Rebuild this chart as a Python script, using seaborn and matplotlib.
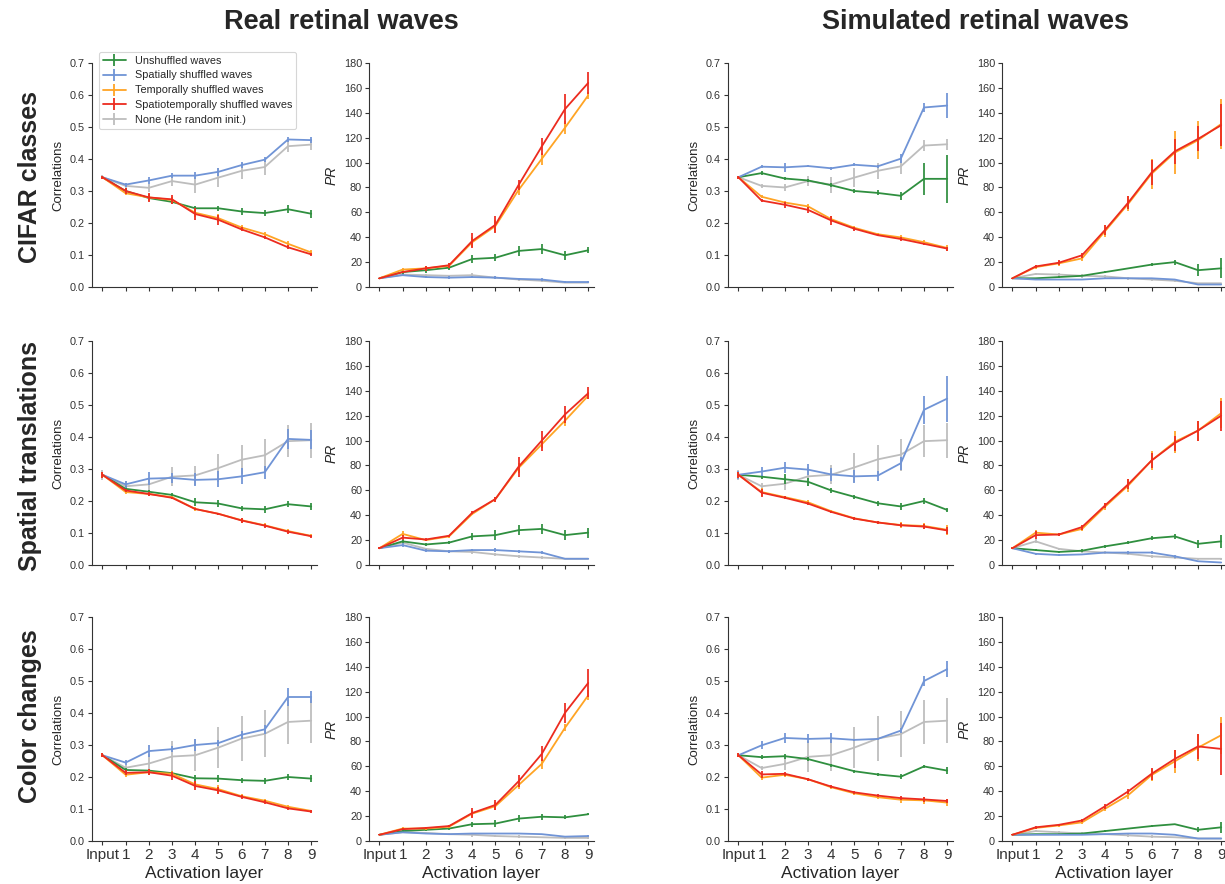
import matplotlib
matplotlib.use("Agg")
import matplotlib.pyplot as plt
from matplotlib.lines import Line2D
import seaborn as sns
import pandas as pd

# ---------------- categories ----------------
layer_labels = ["Input", "1", "2", "3", "4", "5", "6", "7", "8", "9"]
series_names = ["Unshuffled waves", "Spatially shuffled waves", "Temporally shuffled waves",
                "Spatiotemporally shuffled waves", "None (He random init.)"]
column_titles = ["Real retinal waves", "Simulated retinal waves"]
row_titles = ["CIFAR classes", "Spatial translations", "Color changes"]

# ---------------- Real waves / CIFAR classes ----------------
real_cifar_corr_unsh = [0.343, 0.300, 0.278, 0.266, 0.246, 0.246, 0.236, 0.231, 0.243, 0.229]
real_cifar_corr_unsh_err = [0.005, 0.008, 0.008, 0.008, 0.007, 0.008, 0.010, 0.010, 0.013, 0.012]
real_cifar_corr_spat = [0.343, 0.320, 0.333, 0.348, 0.348, 0.360, 0.381, 0.398, 0.461, 0.459]
real_cifar_corr_spat_err = [0.005, 0.006, 0.010, 0.008, 0.010, 0.012, 0.010, 0.008, 0.008, 0.010]
real_cifar_corr_temp = [0.343, 0.293, 0.280, 0.272, 0.232, 0.215, 0.186, 0.165, 0.135, 0.108]
real_cifar_corr_temp_err = [0.005, 0.006, 0.010, 0.010, 0.012, 0.012, 0.008, 0.008, 0.010, 0.008]
real_cifar_corr_st = [0.343, 0.300, 0.280, 0.274, 0.228, 0.210, 0.180, 0.155, 0.124, 0.102]
real_cifar_corr_st_err = [0.005, 0.008, 0.015, 0.015, 0.018, 0.015, 0.006, 0.005, 0.006, 0.005]
real_cifar_corr_none = [0.343, 0.316, 0.310, 0.331, 0.320, 0.342, 0.363, 0.375, 0.440, 0.445]
real_cifar_corr_none_err = [0.006, 0.008, 0.012, 0.015, 0.025, 0.030, 0.025, 0.025, 0.018, 0.018]

real_cifar_pr_unsh = [7, 12, 13.5, 15.5, 22.5, 23.5, 29, 30.5, 25.5, 29.5]
real_cifar_pr_unsh_err = [0.5, 1.5, 2, 2, 3, 3, 4, 4, 3.5, 2.5]
real_cifar_pr_spat = [7, 9.5, 8, 7.5, 8, 7.5, 6.5, 6, 4, 4]
real_cifar_pr_spat_err = [0.5, 1, 1, 1, 1, 1, 1, 1, 0.5, 1]
real_cifar_pr_temp = [7, 14, 15, 17, 36, 49, 78, 103, 128, 154]
real_cifar_pr_temp_err = [0.5, 1, 1.5, 2, 4, 5, 4, 5, 5, 3]
real_cifar_pr_st = [7, 12, 15, 17.5, 37, 50, 82, 113, 143, 164]
real_cifar_pr_st_err = [0.5, 1, 2, 2, 6, 7, 4, 7, 12, 9]
real_cifar_pr_none = [7, 10, 9.5, 9, 9.5, 7.5, 6, 5, 3.5, 3.5]
real_cifar_pr_none_err = [0.5, 1, 1, 1, 2, 1, 1, 1, 0.5, 0.5]

# ---------------- Simulated waves / CIFAR classes ----------------
sim_cifar_corr_unsh = [0.343, 0.356, 0.339, 0.333, 0.318, 0.300, 0.294, 0.285, 0.338, 0.338]
sim_cifar_corr_unsh_err = [0.005, 0.006, 0.006, 0.006, 0.006, 0.006, 0.008, 0.012, 0.050, 0.075]
sim_cifar_corr_spat = [0.343, 0.376, 0.374, 0.378, 0.371, 0.382, 0.377, 0.401, 0.561, 0.567]
sim_cifar_corr_spat_err = [0.004, 0.004, 0.015, 0.004, 0.004, 0.004, 0.005, 0.015, 0.014, 0.038]
sim_cifar_corr_temp = [0.343, 0.282, 0.264, 0.252, 0.212, 0.185, 0.165, 0.155, 0.140, 0.122]
sim_cifar_corr_temp_err = [0.004, 0.005, 0.006, 0.008, 0.010, 0.006, 0.005, 0.006, 0.006, 0.008]
sim_cifar_corr_st = [0.343, 0.270, 0.257, 0.241, 0.208, 0.182, 0.162, 0.150, 0.135, 0.120]
sim_cifar_corr_st_err = [0.004, 0.004, 0.010, 0.010, 0.014, 0.006, 0.004, 0.006, 0.004, 0.006]
sim_cifar_corr_none = [0.343, 0.316, 0.311, 0.331, 0.320, 0.342, 0.363, 0.377, 0.442, 0.446]
sim_cifar_corr_none_err = [0.005, 0.006, 0.012, 0.016, 0.025, 0.030, 0.025, 0.025, 0.018, 0.018]

sim_cifar_pr_unsh = [7, 7, 8, 9, 12, 15, 18, 20, 13.5, 15]
sim_cifar_pr_unsh_err = [0.5, 0.5, 0.5, 0.5, 0.5, 0.5, 1, 2, 5, 8]
sim_cifar_pr_spat = [7, 6, 6, 6, 7, 7, 7, 6, 2, 2]
sim_cifar_pr_spat_err = [0.5, 0.5, 0.5, 0.5, 0.5, 0.5, 0.5, 0.5, 0.5, 0.5]
sim_cifar_pr_temp = [7, 16, 19, 23, 45, 67, 91, 108, 118, 131]
sim_cifar_pr_temp_err = [0.5, 1.5, 2, 2, 5, 6, 12, 17, 15, 20]
sim_cifar_pr_st = [7, 16.5, 19.5, 25.5, 46, 68, 92, 109, 119, 130]
sim_cifar_pr_st_err = [0.5, 1.5, 2, 2, 4, 5, 10, 10, 10, 17]
sim_cifar_pr_none = [7, 10.5, 10, 9, 8.5, 7, 6, 5, 3, 3]
sim_cifar_pr_none_err = [0.5, 1, 1, 1.5, 1.5, 1, 1, 1, 0.5, 0.5]

# ---------------- Real waves / Spatial translations ----------------
real_trans_corr_unsh = [0.282, 0.238, 0.229, 0.219, 0.196, 0.192, 0.177, 0.174, 0.190, 0.183]
real_trans_corr_unsh_err = [0.010, 0.008, 0.006, 0.006, 0.012, 0.012, 0.008, 0.010, 0.010, 0.010]
real_trans_corr_spat = [0.282, 0.252, 0.270, 0.272, 0.266, 0.268, 0.277, 0.290, 0.394, 0.391]
real_trans_corr_spat_err = [0.010, 0.010, 0.020, 0.015, 0.020, 0.025, 0.025, 0.020, 0.030, 0.030]
real_trans_corr_temp = [0.282, 0.228, 0.222, 0.212, 0.175, 0.160, 0.140, 0.124, 0.106, 0.091]
real_trans_corr_temp_err = [0.010, 0.006, 0.006, 0.005, 0.005, 0.004, 0.008, 0.006, 0.006, 0.005]
real_trans_corr_st = [0.282, 0.233, 0.222, 0.210, 0.175, 0.160, 0.139, 0.123, 0.104, 0.090]
real_trans_corr_st_err = [0.010, 0.006, 0.006, 0.004, 0.004, 0.004, 0.008, 0.006, 0.006, 0.005]
real_trans_corr_none = [0.282, 0.246, 0.252, 0.276, 0.280, 0.303, 0.329, 0.343, 0.387, 0.390]
real_trans_corr_none_err = [0.015, 0.015, 0.020, 0.030, 0.030, 0.045, 0.045, 0.050, 0.050, 0.055]

real_trans_pr_unsh = [13.5, 19, 16.5, 18, 23, 24, 28, 29, 24, 26]
real_trans_pr_unsh_err = [1, 1, 1, 1, 3, 4, 4, 4, 4, 4]
real_trans_pr_spat = [13.5, 16, 11.5, 11, 12, 12, 11, 10, 5, 5]
real_trans_pr_spat_err = [1, 1.5, 1, 1, 1, 1.5, 1, 1, 0.5, 0.5]
real_trans_pr_temp = [13.5, 25, 20, 23, 41, 53, 78, 97, 116, 136]
real_trans_pr_temp_err = [1, 2, 1, 1.5, 1, 2, 4, 3, 4, 3]
real_trans_pr_st = [13.5, 22, 20.5, 23.5, 42, 53, 79, 100, 121, 138]
real_trans_pr_st_err = [1, 2, 1, 1, 1, 2, 8, 8, 7, 5]
real_trans_pr_none = [13.5, 18, 13, 11, 10.5, 8.5, 7, 6, 5, 5]
real_trans_pr_none_err = [1, 1.5, 1, 1, 2, 1, 1, 1, 0.5, 0.5]

# ---------------- Simulated waves / Spatial translations ----------------
sim_trans_corr_unsh = [0.282, 0.276, 0.268, 0.260, 0.233, 0.213, 0.193, 0.183, 0.200, 0.172]
sim_trans_corr_unsh_err = [0.010, 0.006, 0.015, 0.012, 0.008, 0.006, 0.008, 0.010, 0.008, 0.006]
sim_trans_corr_spat = [0.282, 0.292, 0.304, 0.298, 0.283, 0.277, 0.279, 0.318, 0.485, 0.520]
sim_trans_corr_spat_err = [0.012, 0.015, 0.018, 0.018, 0.020, 0.020, 0.015, 0.020, 0.043, 0.072]
sim_trans_corr_temp = [0.282, 0.228, 0.212, 0.196, 0.168, 0.146, 0.133, 0.125, 0.122, 0.110]
sim_trans_corr_temp_err = [0.010, 0.012, 0.005, 0.006, 0.005, 0.005, 0.005, 0.008, 0.010, 0.015]
sim_trans_corr_st = [0.282, 0.226, 0.210, 0.192, 0.166, 0.145, 0.133, 0.124, 0.120, 0.108]
sim_trans_corr_st_err = [0.010, 0.012, 0.005, 0.005, 0.004, 0.005, 0.005, 0.006, 0.008, 0.010]
sim_trans_corr_none = [0.282, 0.246, 0.254, 0.277, 0.282, 0.305, 0.330, 0.345, 0.387, 0.390]
sim_trans_corr_none_err = [0.015, 0.010, 0.020, 0.030, 0.030, 0.045, 0.045, 0.050, 0.050, 0.055]

sim_trans_pr_unsh = [13.5, 12, 10.5, 11.5, 15, 18, 21.5, 23, 17, 19]
sim_trans_pr_unsh_err = [1, 1, 1, 1, 1, 1, 1.5, 2, 3, 5.5]
sim_trans_pr_spat = [13.5, 9, 8, 8.5, 10, 10, 10, 7, 3, 2]
sim_trans_pr_spat_err = [1, 1, 0.5, 0.5, 0.5, 1, 1, 1, 0.5, 0.5]
sim_trans_pr_temp = [13.5, 26, 24.5, 29, 47, 64, 84, 99, 108, 122]
sim_trans_pr_temp_err = [1, 2, 1, 2, 3, 5, 8, 9, 8, 12]
sim_trans_pr_st = [13.5, 24, 24.5, 30.5, 48, 65, 84, 98, 108, 120]
sim_trans_pr_st_err = [1, 3, 1, 2, 2, 4, 6, 6, 8, 12]
sim_trans_pr_none = [13.5, 19, 13, 11, 10, 9, 7, 6, 5, 5]
sim_trans_pr_none_err = [1, 1.5, 1, 1, 1, 1, 1, 1, 1, 1]

# ---------------- Real waves / Color changes ----------------
real_color_corr_unsh = [0.268, 0.222, 0.220, 0.212, 0.196, 0.195, 0.190, 0.188, 0.200, 0.195]
real_color_corr_unsh_err = [0.006, 0.006, 0.006, 0.006, 0.010, 0.010, 0.008, 0.010, 0.010, 0.010]
real_color_corr_spat = [0.268, 0.245, 0.281, 0.287, 0.300, 0.306, 0.332, 0.349, 0.450, 0.450]
real_color_corr_spat_err = [0.006, 0.008, 0.020, 0.010, 0.020, 0.010, 0.012, 0.015, 0.028, 0.020]
real_color_corr_temp = [0.268, 0.207, 0.215, 0.210, 0.177, 0.162, 0.140, 0.126, 0.107, 0.094]
real_color_corr_temp_err = [0.006, 0.006, 0.010, 0.010, 0.010, 0.012, 0.006, 0.006, 0.005, 0.004]
real_color_corr_st = [0.268, 0.213, 0.215, 0.204, 0.172, 0.158, 0.138, 0.121, 0.102, 0.092]
real_color_corr_st_err = [0.006, 0.008, 0.010, 0.012, 0.014, 0.012, 0.006, 0.006, 0.005, 0.004]
real_color_corr_none = [0.268, 0.229, 0.242, 0.264, 0.268, 0.292, 0.320, 0.335, 0.372, 0.376]
real_color_corr_none_err = [0.006, 0.008, 0.030, 0.048, 0.050, 0.065, 0.070, 0.073, 0.070, 0.070]

real_color_pr_unsh = [5, 8, 9, 10, 13.5, 14, 18, 19.5, 19, 21.5]
real_color_pr_unsh_err = [0.5, 1, 1, 1, 2, 2.5, 2.5, 2.5, 1.5, 1]
real_color_pr_spat = [5, 7, 6, 5.5, 6, 6, 6, 5.5, 3.5, 4]
real_color_pr_spat_err = [0.5, 0.5, 0.5, 0.5, 0.5, 0.5, 0.5, 0.5, 0.5, 0.5]
real_color_pr_temp = [5, 10, 10, 11.5, 22, 28, 45, 62, 91, 117]
real_color_pr_temp_err = [0.5, 1, 1, 1, 3, 3, 3, 4, 3, 4]
real_color_pr_st = [5, 9.5, 10.5, 12, 22.5, 29, 48, 70, 103, 127]
real_color_pr_st_err = [0.5, 1, 1, 1, 4, 4, 5, 6, 8, 11]
real_color_pr_none = [5, 7, 6.5, 5.5, 5, 4, 3.5, 3, 2.5, 2.5]
real_color_pr_none_err = [0.5, 0.5, 1, 1, 1.5, 1, 1, 0.5, 0.5, 0.5]

# ---------------- Simulated waves / Color changes ----------------
sim_color_corr_unsh = [0.268, 0.262, 0.265, 0.256, 0.237, 0.218, 0.208, 0.201, 0.233, 0.220]
sim_color_corr_unsh_err = [0.005, 0.006, 0.008, 0.006, 0.005, 0.004, 0.004, 0.007, 0.004, 0.010]
sim_color_corr_spat = [0.268, 0.299, 0.322, 0.319, 0.321, 0.316, 0.319, 0.345, 0.500, 0.537]
sim_color_corr_spat_err = [0.006, 0.013, 0.015, 0.014, 0.015, 0.004, 0.004, 0.008, 0.016, 0.025]
sim_color_corr_temp = [0.268, 0.198, 0.207, 0.193, 0.168, 0.149, 0.137, 0.129, 0.127, 0.120]
sim_color_corr_temp_err = [0.006, 0.006, 0.006, 0.004, 0.005, 0.005, 0.006, 0.010, 0.012, 0.012]
sim_color_corr_st = [0.268, 0.208, 0.210, 0.193, 0.170, 0.152, 0.142, 0.134, 0.130, 0.125]
sim_color_corr_st_err = [0.006, 0.010, 0.006, 0.005, 0.005, 0.004, 0.004, 0.006, 0.008, 0.006]
sim_color_corr_none = [0.268, 0.228, 0.241, 0.263, 0.268, 0.292, 0.320, 0.334, 0.372, 0.376]
sim_color_corr_none_err = [0.006, 0.006, 0.020, 0.048, 0.050, 0.065, 0.070, 0.073, 0.070, 0.070]

sim_color_pr_unsh = [5, 5.5, 5.5, 6, 8, 10, 12, 13.5, 9, 11]
sim_color_pr_unsh_err = [0.5, 0.5, 0.5, 0.5, 0.5, 0.5, 0.5, 0.5, 2, 4.5]
sim_color_pr_spat = [5, 5, 5, 5, 5.5, 6, 6, 5, 2, 2]
sim_color_pr_spat_err = [0.5, 0.5, 0.5, 0.5, 0.5, 0.5, 0.5, 0.5, 0.5, 0.5]
sim_color_pr_temp = [5, 10.5, 12.5, 15, 26, 37, 53, 64, 75, 85]
sim_color_pr_temp_err = [0.5, 1, 1, 1.5, 2, 3, 5, 9, 11, 15]
sim_color_pr_st = [5, 11, 13, 16.5, 28, 40, 54, 66, 76, 74]
sim_color_pr_st_err = [0.5, 1, 1, 1, 2, 2, 5, 7, 10, 21]
sim_color_pr_none = [5, 8, 7, 6, 5.5, 4.5, 3.5, 3, 2, 2]
sim_color_pr_none_err = [0.5, 1, 1, 1, 1, 1, 1, 0.5, 0.5, 0.5]

# ---------------- styling ----------------
colors = ["#2f8f3f", "#7094d6", "#ffa424", "#ec2b1f", "#bdbdbd"]
draw_order = [4, 0, 1, 2, 3]

panels = [
    [(real_cifar_corr_unsh, real_cifar_corr_spat, real_cifar_corr_temp, real_cifar_corr_st, real_cifar_corr_none),
     (real_cifar_pr_unsh, real_cifar_pr_spat, real_cifar_pr_temp, real_cifar_pr_st, real_cifar_pr_none),
     (sim_cifar_corr_unsh, sim_cifar_corr_spat, sim_cifar_corr_temp, sim_cifar_corr_st, sim_cifar_corr_none),
     (sim_cifar_pr_unsh, sim_cifar_pr_spat, sim_cifar_pr_temp, sim_cifar_pr_st, sim_cifar_pr_none)],
    [(real_trans_corr_unsh, real_trans_corr_spat, real_trans_corr_temp, real_trans_corr_st, real_trans_corr_none),
     (real_trans_pr_unsh, real_trans_pr_spat, real_trans_pr_temp, real_trans_pr_st, real_trans_pr_none),
     (sim_trans_corr_unsh, sim_trans_corr_spat, sim_trans_corr_temp, sim_trans_corr_st, sim_trans_corr_none),
     (sim_trans_pr_unsh, sim_trans_pr_spat, sim_trans_pr_temp, sim_trans_pr_st, sim_trans_pr_none)],
    [(real_color_corr_unsh, real_color_corr_spat, real_color_corr_temp, real_color_corr_st, real_color_corr_none),
     (real_color_pr_unsh, real_color_pr_spat, real_color_pr_temp, real_color_pr_st, real_color_pr_none),
     (sim_color_corr_unsh, sim_color_corr_spat, sim_color_corr_temp, sim_color_corr_st, sim_color_corr_none),
     (sim_color_pr_unsh, sim_color_pr_spat, sim_color_pr_temp, sim_color_pr_st, sim_color_pr_none)],
]
panel_errs = [
    [(real_cifar_corr_unsh_err, real_cifar_corr_spat_err, real_cifar_corr_temp_err, real_cifar_corr_st_err, real_cifar_corr_none_err),
     (real_cifar_pr_unsh_err, real_cifar_pr_spat_err, real_cifar_pr_temp_err, real_cifar_pr_st_err, real_cifar_pr_none_err),
     (sim_cifar_corr_unsh_err, sim_cifar_corr_spat_err, sim_cifar_corr_temp_err, sim_cifar_corr_st_err, sim_cifar_corr_none_err),
     (sim_cifar_pr_unsh_err, sim_cifar_pr_spat_err, sim_cifar_pr_temp_err, sim_cifar_pr_st_err, sim_cifar_pr_none_err)],
    [(real_trans_corr_unsh_err, real_trans_corr_spat_err, real_trans_corr_temp_err, real_trans_corr_st_err, real_trans_corr_none_err),
     (real_trans_pr_unsh_err, real_trans_pr_spat_err, real_trans_pr_temp_err, real_trans_pr_st_err, real_trans_pr_none_err),
     (sim_trans_corr_unsh_err, sim_trans_corr_spat_err, sim_trans_corr_temp_err, sim_trans_corr_st_err, sim_trans_corr_none_err),
     (sim_trans_pr_unsh_err, sim_trans_pr_spat_err, sim_trans_pr_temp_err, sim_trans_pr_st_err, sim_trans_pr_none_err)],
    [(real_color_corr_unsh_err, real_color_corr_spat_err, real_color_corr_temp_err, real_color_corr_st_err, real_color_corr_none_err),
     (real_color_pr_unsh_err, real_color_pr_spat_err, real_color_pr_temp_err, real_color_pr_st_err, real_color_pr_none_err),
     (sim_color_corr_unsh_err, sim_color_corr_spat_err, sim_color_corr_temp_err, sim_color_corr_st_err, sim_color_corr_none_err),
     (sim_color_pr_unsh_err, sim_color_pr_spat_err, sim_color_pr_temp_err, sim_color_pr_st_err, sim_color_pr_none_err)],
]

sns.set_theme(style="ticks")
plt.rcParams["font.family"] = ["Liberation Sans", "DejaVu Sans"]
plt.rcParams["axes.edgecolor"] = "#333333"
plt.rcParams["xtick.color"] = "#333333"
plt.rcParams["ytick.color"] = "#333333"

fig = plt.figure(figsize=(12.25, 8.84), dpi=100)

col_lefts = [92, 369, 728, 1002]
row_tops = [63, 341, 617]
ax_w, ax_h = 225, 224
W, H = 1225, 884
x_pos = list(range(len(layer_labels)))

for r in range(3):
    for c in range(4):
        left = col_lefts[c] / W
        bottom = 1 - (row_tops[r] + ax_h) / H
        ax = fig.add_axes([left, bottom, ax_w / W, ax_h / H])
        is_pr = (c % 2 == 1)
        vals = panels[r][c]
        errs = panel_errs[r][c]
        for s in draw_order:
            df = pd.DataFrame({"layer": x_pos, "value": vals[s]})
            sns.lineplot(data=df, x="layer", y="value", ax=ax, color=colors[s],
                         lw=1.3, legend=False)
            ax.errorbar(x_pos, vals[s], yerr=errs[s], fmt="none", ecolor=colors[s],
                        elinewidth=1.4, capsize=0, alpha=0.9)
        ax.set_xlim(-0.45, 9.25)
        if is_pr:
            ax.set_ylim(0, 180)
            ax.set_yticks(range(0, 181, 20))
            ax.set_ylabel("PR", fontsize=10, style="italic")
        else:
            ax.set_ylim(0, 0.7)
            ax.set_yticks([0.0, 0.1, 0.2, 0.3, 0.4, 0.5, 0.6, 0.7])
            ax.set_yticklabels([f"{v:.1f}" for v in [0.0, 0.1, 0.2, 0.3, 0.4, 0.5, 0.6, 0.7]])
            ax.set_ylabel("Correlations", fontsize=9.5)
        ax.set_xticks(x_pos)
        if r == 2:
            ax.set_xticklabels(layer_labels, fontsize=11)
            ax.set_xlabel("Activation layer", fontsize=12.5, labelpad=3)
        else:
            ax.set_xticklabels([])
            ax.set_xlabel("")
        ax.tick_params(axis="y", labelsize=7.8, length=3, width=0.8, pad=2)
        ax.tick_params(axis="x", length=3, width=0.8, pad=2)
        for sp in ["left", "bottom"]:
            ax.spines[sp].set_linewidth(0.8)
        sns.despine(ax=ax)

        if r == 0 and c == 0:
            handles = [Line2D([0], [0], color=colors[i], lw=1.3, marker="|",
                              markersize=9, markeredgewidth=1.3) for i in range(5)]
            leg = ax.legend(handles, series_names, loc="upper left",
                            bbox_to_anchor=(0.03, 1.05), borderaxespad=0,
                            fontsize=7.8, frameon=True, handlelength=2.2,
                            labelspacing=0.45, borderpad=0.35)
            leg.get_frame().set_edgecolor("#cccccc")
            leg.get_frame().set_linewidth(0.8)

fig.text(341 / W, 1 - 22 / H, column_titles[0], ha="center", va="center",
         fontsize=19.5, fontweight="bold")
fig.text(976 / W, 1 - 22 / H, column_titles[1], ha="center", va="center",
         fontsize=19.5, fontweight="bold")
for r, (title, yc) in enumerate(zip(row_titles, [177, 456, 716])):
    fig.text(30 / W, 1 - yc / H, title, ha="center", va="center", rotation=90,
             fontsize=18, fontweight="bold")

fig.savefig("out.png", dpi=100)
